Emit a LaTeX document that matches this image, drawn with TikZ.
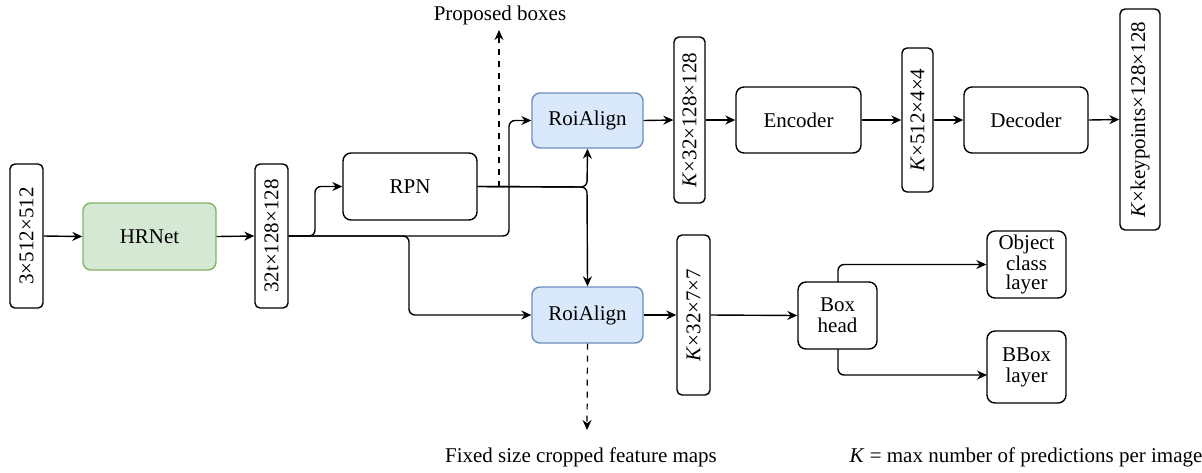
\documentclass[tikz,border=0pt]{standalone}
\usepackage{fontspec}
\setmainfont{Liberation Serif}
\usetikzlibrary{arrows.meta}
\definecolor{hrfill}{HTML}{D5E8D4}
\definecolor{hrline}{HTML}{82B366}
\definecolor{roifill}{HTML}{DAE8FC}
\definecolor{roiline}{HTML}{6C8EBF}
\begin{document}
\begin{tikzpicture}[x=0.5pt,y=-0.5pt,
  font=\fontsize{10.5pt}{11pt}\selectfont,
  block/.style={draw, line width=0.7pt, rounded corners=4pt, inner sep=0pt, align=center},
  tensor/.style={draw, line width=0.7pt, rounded corners=2.5pt, inner sep=0pt, rotate=90},
  hr/.style={block, fill=hrfill, draw=hrline},
  roi/.style={block, fill=roifill, draw=roiline},
  link/.style={line width=0.7pt, rounded corners=3pt, -{Stealth[length=5pt,width=4.5pt]}},
  hint/.style={line width=0.6pt, dashed, -{Stealth[length=5pt,width=4.5pt]}}
]
\useasboundingbox (0,0) rectangle (1202,472);

% backbone
\node[tensor, minimum width=72pt, minimum height=16.5pt] (in) at (26.5,236) {3×512×512};
\node[hr, minimum width=66.5pt, minimum height=33.5pt] (hrnet) at (149.5,236.5) {HRNet};
\node[tensor, minimum width=72pt, minimum height=16.5pt] (feat) at (271.5,236) {32t×128×128};

% region proposals and pooling
\node[block, minimum width=67pt, minimum height=33.5pt] (rpn) at (410,186.5) {RPN};
\node[roi, minimum width=55.5pt, minimum height=27.5pt] (roia) at (587.5,120.5) {RoiAlign};
\node[roi, minimum width=55.5pt, minimum height=28pt] (roib) at (587.5,315) {RoiAlign};

% keypoint branch
\node[tensor, minimum width=83pt, minimum height=15.5pt] (ka) at (689.5,120) {\textit{K}×32×128×128};
\node[block, minimum width=62.5pt, minimum height=33pt] (enc) at (798.5,120) {Encoder};
\node[tensor, minimum width=72pt, minimum height=15.5pt] (kb) at (917.5,120) {\textit{K}×512×4×4};
\node[block, minimum width=62pt, minimum height=33pt] (dec) at (1026,120) {Decoder};
\node[tensor, minimum width=110.5pt, minimum height=20pt] (kc) at (1140,119.5) {\textit{K}×keypoints×128×128};

% box branch
\node[tensor, minimum width=80pt, minimum height=16.5pt] (kd) at (693.5,315) {\textit{K}×32×7×7};
\node[block, minimum width=39.5pt, minimum height=33.5pt, font=\fontsize{10.5pt}{10.5pt}\selectfont] (head) at (837.5,315.5) {Box\\head};
\node[block, minimum width=39.5pt, minimum height=33.5pt, font=\fontsize{10.5pt}{9.5pt}\selectfont] (obj) at (1026.5,264.5) {Object\\class\\layer};
\node[block, minimum width=39.5pt, minimum height=36pt, font=\fontsize{10.5pt}{10.5pt}\selectfont] (bbox) at (1026.5,367) {BBox\\layer};

% annotations
\node (ptext) at (500,15) {Proposed boxes};
\node (ftext) at (581,457) {Fixed size cropped feature maps};
\node (ktext) at (1026,457) {\textit{K} = max number of predictions per image};
\coordinate (ptap) at (499,187);
\coordinate (ptip) at (499,30);
\coordinate (ftip) at (587,430);
\coordinate (split) at (587,187);

% connectors
\draw[link] (in.south) -- (hrnet.west);
\draw[link] (hrnet.east) -- (feat.north);
\draw[link] (feat.south) -- (315,236) -- (315,186.5) -- (rpn.west);
\draw[link] (feat.south) -- (509,236) -- (509,120.5) -- (roia.west);
\draw[link] (feat.south) -- (409,236) -- (409,315) -- (roib.west);
\draw[link] (rpn.east) -- (split) -- (roia.south);
\draw[link] (rpn.east) -- (split) -- (roib.north);
\draw[hint] (ptap) -- (ptip);
\draw[hint] (roib.south) -- (ftip);

\draw[link] (roia.east) -- (ka.north);
\draw[link] (ka.south) -- (enc.west);
\draw[link] (enc.east) -- (kb.north);
\draw[link] (kb.south) -- (dec.west);
\draw[link] (dec.east) -- (kc.north);

\draw[link] (roib.east) -- (kd.north);
\draw[link] (kd.south) -- (head.west);
\draw[link] (838,282) -- (838,264.5) -- (obj.west);
\draw[link] (838,349) -- (838,375) -- (987,375);
\end{tikzpicture}
\end{document}
